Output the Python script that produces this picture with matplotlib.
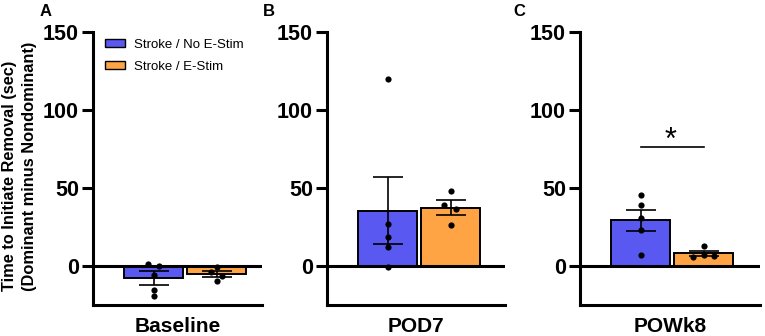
import matplotlib
matplotlib.use("Agg")
import matplotlib.pyplot as plt
from matplotlib.patches import Patch

plt.rcParams['font.family'] = ['Liberation Sans', 'DejaVu Sans']

# data
groups = ["Stroke / No E-Stim", "Stroke / E-Stim"]
colors = ["#5959F2", "#FFA444"]
panels = ["A", "B", "C"]
timepoints = ["Baseline", "POD7", "POWk8"]

means = [[-7.8, -5.1], [35.3, 37.5], [29.3, 8.1]]
sems = [[4.3, 2.0], [21.5, 4.6], [6.8, 1.8]]

pts_nostim = [[1.5, -0.2, -5.8, -15.4, -19.2],
              [119.9, 26.7, 18.6, 12.0, -0.4],
              [45.4, 39.4, 30.8, 23.3, 7.3]]
pts_stim = [[-0.6, -4.1, -6.4, -9.8],
            [48.1, 39.1, 36.3, 26.3],
            [12.9, 7.3, 5.6, 6.5]]

# horizontal spread of the dots (bar units)
jit_nostim = [[-0.09, 0.09, 0, 0, 0], [0, 0, 0, 0, 0], [0, 0, 0, 0, 0]]
jit_stim = [[0, -0.09, 0.09, 0], [0, -0.1, 0.09, 0], [0, 0, -0.17, 0.17]]

sig_y = 76
star_y = 80

fig = plt.figure(figsize=(7.65, 3.36), dpi=100)
W, H = 765, 336
boxes = [(93, 262), (327, 505), (580, 760)]
top_px, bot_px = 32, 305
px_per_unit = 63.0

lw = 2.2
axes = []
for i, (x0, x1) in enumerate(boxes):
    ax = fig.add_axes([x0 / W, (H - bot_px) / H, (x1 - x0) / W, (bot_px - top_px) / H])
    left = -(60.5 / px_per_unit)
    ax.set_xlim(left, left + (x1 - x0) / px_per_unit)
    ax.set_ylim(-25, 150)

    xs = [0, 1]
    ax.bar(xs, means[i], width=0.94, color=colors, edgecolor="black",
           linewidth=1.4, zorder=2)
    ax.errorbar(xs, means[i], yerr=sems[i], fmt="none", ecolor="black",
                elinewidth=1.2, capsize=10.5, capthick=1.2, zorder=3)
    ax.scatter([0 + j for j in jit_nostim[i]], pts_nostim[i], s=20,
               color="black", zorder=4, linewidths=0)
    ax.scatter([1 + j for j in jit_stim[i]], pts_stim[i], s=20,
               color="black", zorder=4, linewidths=0)
    ax.axhline(0, color="black", linewidth=lw, zorder=5)

    for s in ["top", "right"]:
        ax.spines[s].set_visible(False)
    ax.spines["left"].set_linewidth(lw)
    ax.spines["bottom"].set_linewidth(lw)
    ax.set_xticks([])
    ax.set_yticks([0, 50, 100, 150])
    ax.tick_params(axis="y", length=8, width=lw, labelsize=15.5, pad=2)
    for t in ax.get_yticklabels():
        t.set_fontweight("bold")
    ax.set_xlabel(timepoints[i], fontsize=15, fontweight="bold", labelpad=9)
    axes.append(ax)

# panel letters
for lab, xp in zip(panels, [40, 263, 513]):
    fig.text(xp / W, 1 - 4 / H, lab, fontsize=12, fontweight="bold",
             ha="left", va="top")

# y label, two lines starting at the same height
ylab = ["Time to Initiate Removal (sec)", "(Dominant minus Nondominant)"]
for txt, xp in zip(ylab, [10, 30]):
    fig.text(xp / W, (H - 291) / H, txt, rotation=90, ha="center",
             va="bottom", fontsize=11.8, fontweight="bold")

handles = [Patch(facecolor=c, edgecolor="black", linewidth=1.0) for c in colors]
axes[0].legend(handles, groups, loc="upper left", bbox_to_anchor=(0.07, 0.975),
               frameon=False, fontsize=9.5, handlelength=1.5, handleheight=0.5,
               handletextpad=0.7, labelspacing=0.75, borderpad=0, borderaxespad=0)

# significance bar in panel C
axes[2].plot([0, 1], [sig_y, sig_y], color="black", linewidth=1.2)
axes[2].text(0.47, star_y, "*", fontsize=22, ha="center", va="center")

fig.savefig("out.png", dpi=100)
